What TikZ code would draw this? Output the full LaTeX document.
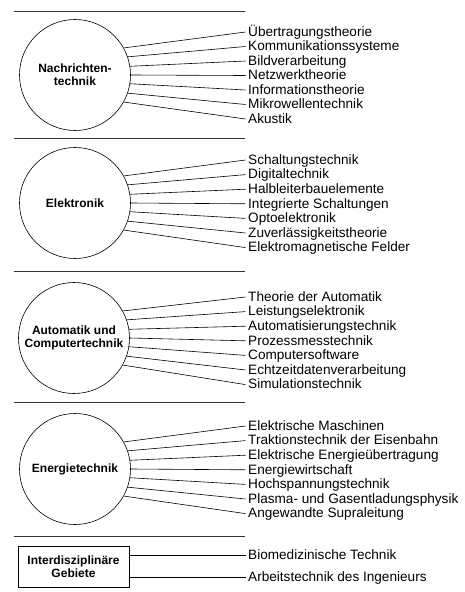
\documentclass[tikz,border=0pt]{standalone}
\usepackage{fontspec}
\setmainfont{Liberation Sans}
\begin{document}
\begin{tikzpicture}[x=1pt,y=-1pt,
  field/.style={circle, draw, line width=0.6pt, minimum size=111pt, inner sep=0pt,
    font=\fontsize{12}{13}\selectfont\bfseries, align=center},
  areabox/.style={rectangle, draw, line width=0.6pt, minimum width=111pt, minimum height=41pt,
    inner sep=0pt, font=\fontsize{12}{13}\selectfont\bfseries, align=center},
  topic/.style={anchor=west, inner xsep=2.5pt, inner ysep=0pt,
    font=\fontsize{13.6}{14}\selectfont, text height=8.5pt, text depth=0pt},
  spoke/.style={line width=0.6pt},
  rule/.style={line width=0.8pt, black!80}]
\useasboundingbox (0,0) rectangle (465,592);

% separators
\foreach \yy in {11,138,271,402,536}
  \draw[rule] (14,\yy) -- (245,\yy);

% fields
\node[field] (c1) at (75,75) {Nachrichten-\\technik};
\node[field] (c2) at (75,203) {Elektronik};
\node[field] (c3) at (74,338) {Automatik und\\Computertechnik};
\node[field] (c4) at (75,469) {Energietechnik};
\node[areabox] (box) at (73.5,566.5) {Interdisziplinäre\\Gebiete};

% topics
\foreach \txt [count=\i] in {Übertragungstheorie,Kommunikationssysteme,Bildverarbeitung,Netzwerktheorie,Informationstheorie,Mikrowellentechnik,Akustik}
  \node[topic] (a\i) at (245.5,{32+14.5*(\i-1)}) {\txt};
\foreach \txt [count=\i] in {Schaltungstechnik,Digitaltechnik,Halbleiterbauelemente,Integrierte Schaltungen,Optoelektronik,Zuverlässigkeitstheorie,Elektromagnetische Felder}
  \node[topic] (b\i) at (245.5,{160+14.6*(\i-1)}) {\txt};
\foreach \txt [count=\i] in {Theorie der Automatik,Leistungselektronik,Automatisierungstechnik,Prozessmesstechnik,Computersoftware,Echtzeitdatenverarbeitung,Simulationstechnik}
  \node[topic] (d\i) at (245.5,{297+14.6*(\i-1)}) {\txt};
\foreach \txt [count=\i] in {Elektrische Maschinen,Traktionstechnik der Eisenbahn,Elektrische Energieübertragung,Energiewirtschaft,Hochspannungstechnik,Plasma- und Gasentladungsphysik,Angewandte Supraleitung}
  \node[topic] (e\i) at (245.5,{426+14.6*(\i-1)}) {\txt};
\node[topic] (f1) at (245.5,555) {Biomedizinische Technik};
\node[topic] (f2) at (245.5,577) {Arbeitstechnik des Ingenieurs};

% spokes
\foreach \i/\ang in {1/29,2/19,3/9.5,4/0,5/-9.5,6/-19,7/-29}{
  \draw[spoke] (c1.\ang) -- (a\i.west);
  \draw[spoke] (c2.\ang) -- (b\i.west);
  \draw[spoke] (c3.\ang) -- (d\i.west);
  \draw[spoke] (c4.\ang) -- (e\i.west);
}
\draw[spoke] (box.east |- f1.west) -- (f1.west);
\draw[spoke] (box.east |- f2.west) -- (f2.west);
\end{tikzpicture}
\end{document}
